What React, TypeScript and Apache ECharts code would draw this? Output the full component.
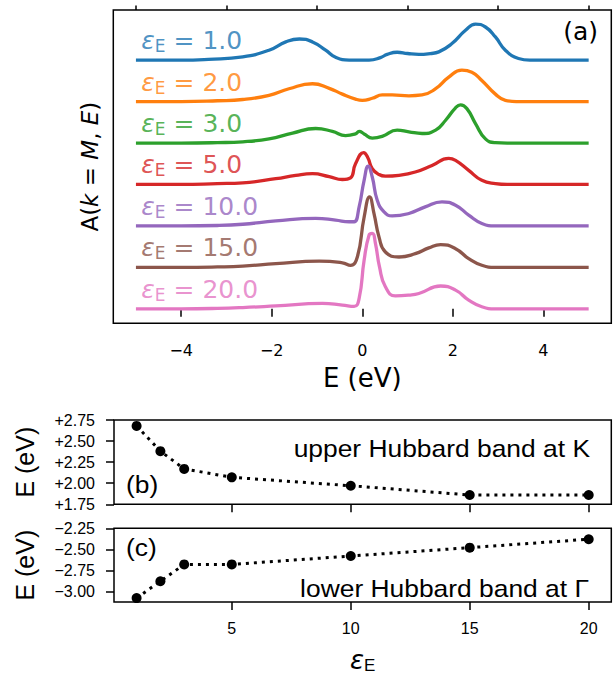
import React, { useEffect, useRef } from 'react';
import * as echarts from 'echarts';

// ---- panel (a): spectral functions A(k=M,E), pairs of [E (eV), A] ----
const epsLabels = ['1.0', '2.0', '3.0', '5.0', '10.0', '15.0', '20.0'];
const curveColors = ['#1f77b4', '#ff7f0e', '#2ca02c', '#d62728', '#9467bd', '#8c564b', '#e377c2'];
const curveOffsets = [6, 5, 4, 3, 2, 1, 0];

const curveEps1: number[][] = [
  [-5, 0], [-4, 0], [-3.4, 0.02], [-2.64, 0.08], [-2.06, 0.24], [-1.69, 0.44], [-1.39, 0.51],
  [-1.1, 0.44], [-0.81, 0.24], [-0.59, 0.07], [-0.29, 0.0], [0.15, 0.0], [0.4, 0.06], [0.55, 0.14],
  [0.77, 0.19], [1.0, 0.16], [1.25, 0.14], [1.5, 0.16], [1.69, 0.2], [1.98, 0.4], [2.28, 0.72],
  [2.5, 0.87], [2.72, 0.8], [2.94, 0.56], [3.16, 0.24], [3.45, 0.04], [3.7, 0], [5, 0],
];
const curveEps2: number[][] = [
  [-5, 0], [-4, 0], [-3.2, 0.02], [-2.64, 0.05], [-2.06, 0.15], [-1.62, 0.31], [-1.1, 0.43],
  [-0.73, 0.32], [-0.44, 0.18], [-0.15, 0.06], [0, 0.03], [0.22, 0.08], [0.44, 0.16], [0.66, 0.16],
  [1.03, 0.14], [1.32, 0.16], [1.62, 0.31], [1.91, 0.59], [2.2, 0.76], [2.42, 0.71], [2.64, 0.51],
  [2.94, 0.18], [3.16, 0.03], [3.4, 0], [5, 0],
];
const curveEps3: number[][] = [
  [-5, 0], [-4, 0], [-3.2, 0.01], [-2.64, 0.03], [-2.06, 0.1], [-1.54, 0.24], [-1.03, 0.35],
  [-0.66, 0.28], [-0.37, 0.18], [-0.15, 0.22], [-0.07, 0.28], [0.04, 0.22], [0.22, 0.12],
  [0.44, 0.16], [0.77, 0.31], [1.03, 0.27], [1.32, 0.23], [1.62, 0.31], [1.84, 0.55], [2.06, 0.85],
  [2.17, 0.92], [2.31, 0.83], [2.5, 0.47], [2.72, 0.1], [2.94, 0.01], [3.2, 0], [5, 0],
];
const curveEps5: number[][] = [
  [-5, 0], [-4, 0], [-3.2, 0.02], [-2.64, 0.04], [-1.91, 0.14], [-1.47, 0.22], [-1.1, 0.26],
  [-0.73, 0.19], [-0.44, 0.12], [-0.26, 0.16], [-0.15, 0.5], [0.03, 0.77], [0.12, 0.65],
  [0.22, 0.38], [0.37, 0.24], [0.51, 0.2], [0.81, 0.22], [1.17, 0.3], [1.54, 0.46], [1.91, 0.63],
  [2.06, 0.58], [2.35, 0.34], [2.64, 0.1], [2.94, 0.02], [3.2, 0], [5, 0],
];
const curveEps10: number[][] = [
  [-5, 0], [-4, 0], [-3.2, 0.01], [-2.64, 0.04], [-1.91, 0.12], [-1.03, 0.18], [-0.59, 0.14],
  [-0.29, 0.1], [-0.18, 0.1], [-0.07, 0.46], [0.04, 1.1], [0.13, 1.44], [0.22, 1.18], [0.33, 0.62],
  [0.48, 0.34], [0.66, 0.24], [1.03, 0.3], [1.39, 0.46], [1.76, 0.58], [2.06, 0.5], [2.35, 0.26],
  [2.64, 0.06], [2.94, 0], [5, 0],
];
const curveEps15: number[][] = [
  [-5, 0], [-4, 0], [-3.2, 0.01], [-2.64, 0.03], [-1.91, 0.09], [-0.95, 0.15], [-0.44, 0.11],
  [-0.26, 0.05], [-0.11, 0.25], [0.04, 1.21], [0.16, 1.7], [0.26, 1.29], [0.37, 0.73], [0.51, 0.37],
  [0.81, 0.25], [1.17, 0.33], [1.47, 0.47], [1.73, 0.55], [2.06, 0.45], [2.35, 0.21], [2.64, 0.05],
  [2.94, 0], [5, 0],
];
const curveEps20: number[][] = [
  [-5, 0], [-4, 0], [-3.2, 0.01], [-2.64, 0.03], [-1.91, 0.07], [-0.88, 0.13], [-0.44, 0.09],
  [-0.18, 0.06], [-0.07, 0.25], [0.04, 1.17], [0.15, 1.78], [0.22, 1.82], [0.29, 1.58], [0.38, 1.01],
  [0.51, 0.53], [0.73, 0.31], [1.03, 0.33], [1.25, 0.37], [1.73, 0.55], [2.06, 0.45], [2.35, 0.21],
  [2.64, 0.05], [2.94, 0], [5, 0],
];
const curves = [curveEps1, curveEps2, curveEps3, curveEps5, curveEps10, curveEps15, curveEps20];

const aMajorTicks = [-4, -2, 0, 2, 4];
const aMinorTicks = [-5, -3, -1, 1, 3, 5];

// ---- panels (b) and (c) ----
const epsE = [1, 2, 3, 5, 10, 15, 20];
const upperHubbardK = [2.68, 2.38, 2.17, 2.07, 1.97, 1.86, 1.86];
const lowerHubbardGamma = [-3.08, -2.88, -2.68, -2.68, -2.58, -2.48, -2.38];
const epsTicks = [5, 10, 15, 20];
const cTicks = [-3, -2.75, -2.5, -2.25];

const MINUS = '\u2212';
const DV = 'DejaVu Sans';
const LS = 'Liberation Sans, Arial, sans-serif';

export default function App() {
  const ref = useRef<HTMLDivElement>(null);
  useEffect(() => {
    document.body.style.margin = '0';
    const chart = echarts.init(ref.current!, undefined, { renderer: 'svg' });
    const tick = { show: true, inside: false, length: 8, lineStyle: { color: '#000', width: 1.5 } };
    const gridBase = { show: true, borderColor: '#000', borderWidth: 1.5, backgroundColor: 'transparent' };

    const curveSeries = curves.map((c, i) => ({
      type: 'line',
      xAxisIndex: 0,
      yAxisIndex: 0,
      data: c.map(([e, a]) => [e, a + curveOffsets[i]]),
      showSymbol: false,
      smooth: 0.5,
      lineStyle: { color: curveColors[i], width: 3.3 },
      itemStyle: { color: curveColors[i] },
      z: 3,
    }));

    const labelSeries = {
      type: 'scatter',
      xAxisIndex: 0,
      yAxisIndex: 0,
      symbolSize: 0,
      silent: true,
      z: 5,
      data: epsLabels.map((l, i) => ({
        value: [-4.88, curveOffsets[i] + 0.47],
        label: {
          show: true,
          position: 'right',
          distance: 0,
          formatter: `{e|ε}{s|E}{n| = ${l}}`,
          rich: {
            e: { fontFamily: DV, fontStyle: 'italic', fontSize: 25, lineHeight: 28, color: curveColors[i] },
            s: { fontFamily: DV, fontSize: 17, lineHeight: 15, verticalAlign: 'bottom', color: curveColors[i] },
            n: { fontFamily: DV, fontSize: 25, lineHeight: 28, color: curveColors[i] },
          },
        },
      })),
    };

    const dotted = { color: '#000', width: 3, type: [3, 5], cap: 'butt' };

    chart.setOption({
      animation: false,
      grid: [
        { ...gridBase, left: 113.3, top: 10, right: 1.7, height: 313.3 },
        { ...gridBase, left: 114, top: 420, right: 1.7, height: 84.3 },
        { ...gridBase, left: 114, top: 528.3, right: 1.7, height: 76 },
      ],
      xAxis: [
        {
          gridIndex: 0, type: 'value', min: -5.5, max: 5.5,
          axisLine: { show: false }, splitLine: { show: false },
          axisTick: { ...tick, customValues: aMajorTicks },
          axisLabel: {
            customValues: aMajorTicks, margin: 19, fontFamily: DV, fontSize: 16, color: '#000',
            formatter: (v: number) => (v < 0 ? MINUS + Math.abs(v) : String(v)),
          },
          name: 'E (eV)', nameLocation: 'middle', nameGap: 42,
          nameTextStyle: { fontFamily: DV, fontSize: 26, color: '#000' },
        },
        {
          gridIndex: 0, type: 'value', min: -5.5, max: 5.5,
          axisLine: { show: false }, splitLine: { show: false },
          axisTick: { ...tick, length: 4.5, customValues: aMinorTicks },
          axisLabel: { show: false },
        },
        {
          gridIndex: 1, type: 'value', min: 0.05, max: 20.95,
          axisLine: { show: false }, splitLine: { show: false },
          axisTick: { ...tick, customValues: epsTicks },
          axisLabel: { show: false },
        },
        {
          gridIndex: 2, type: 'value', min: 0.05, max: 20.95,
          axisLine: { show: false }, splitLine: { show: false },
          axisTick: { ...tick, customValues: epsTicks },
          axisLabel: { customValues: epsTicks, margin: 18, fontFamily: LS, fontSize: 16, color: '#000' },
          name: '{e|ε}{s|E}', nameLocation: 'middle', nameGap: 44,
          nameTextStyle: {
            rich: {
              e: { fontFamily: DV, fontStyle: 'italic', fontSize: 26, lineHeight: 28, color: '#000' },
              s: { fontFamily: LS, fontSize: 17, lineHeight: 15, verticalAlign: 'bottom', color: '#000' },
            },
          },
        },
      ],
      yAxis: [
        {
          gridIndex: 0, type: 'value', min: -0.35, max: 7.21,
          axisLine: { show: false }, splitLine: { show: false },
          axisTick: { show: false }, axisLabel: { show: false },
          name: '{r|A(}{i|k}{r| = }{i|M}{r|, }{i|E}{r|)}', nameLocation: 'middle', nameGap: 12,
          nameTextStyle: {
            rich: {
              r: { fontFamily: DV, fontSize: 23, color: '#000' },
              i: { fontFamily: DV, fontSize: 23, fontStyle: 'italic', color: '#000' },
            },
          },
        },
        {
          gridIndex: 1, type: 'value', min: 1.75, max: 2.75, interval: 0.25,
          axisLine: { show: false }, splitLine: { show: false },
          axisTick: tick,
          axisLabel: {
            margin: 19, fontFamily: LS, fontSize: 16, color: '#000',
            formatter: (v: number) => '+' + v.toFixed(2),
          },
          name: 'E (eV)', nameLocation: 'middle', nameGap: 77,
          nameTextStyle: { fontFamily: LS, fontSize: 25, color: '#000' },
        },
        {
          gridIndex: 2, type: 'value', min: -3.127, max: -2.25,
          axisLine: { show: false }, splitLine: { show: false },
          axisTick: { ...tick, customValues: cTicks },
          axisLabel: {
            customValues: cTicks, margin: 19, fontFamily: LS, fontSize: 16, color: '#000',
            formatter: (v: number) => (v < 0 ? MINUS : '+') + Math.abs(v).toFixed(2),
          },
          name: 'E (eV)', nameLocation: 'middle', nameGap: 77,
          nameTextStyle: { fontFamily: LS, fontSize: 25, color: '#000' },
        },
      ],
      series: [
        ...curveSeries,
        labelSeries,
        {
          type: 'line', xAxisIndex: 2, yAxisIndex: 1,
          data: epsE.map((e, i) => [e, upperHubbardK[i]]),
          symbol: 'circle', symbolSize: 10, showSymbol: true,
          itemStyle: { color: '#000' }, lineStyle: dotted, clip: false, z: 4,
        },
        {
          type: 'line', xAxisIndex: 3, yAxisIndex: 2,
          data: epsE.map((e, i) => [e, lowerHubbardGamma[i]]),
          symbol: 'circle', symbolSize: 10, showSymbol: true,
          itemStyle: { color: '#000' }, lineStyle: dotted, clip: false, z: 4,
        },
      ],
      graphic: [
        {
          type: 'text', x: 598, y: 31,
          style: { text: '(a)', x: 0, y: 0, align: 'right', verticalAlign: 'middle', fontFamily: DV, fontSize: 25, fill: '#000' },
        },
        {
          type: 'text', x: 590, y: 448, scaleX: 1.1,
          style: { text: 'upper Hubbard band at K', x: 0, y: 0, align: 'right', verticalAlign: 'middle', fontFamily: LS, fontSize: 24, fill: '#000' },
        },
        {
          type: 'text', x: 126, y: 484, scaleX: 1.1,
          style: { text: '(b)', x: 0, y: 0, align: 'left', verticalAlign: 'middle', fontFamily: LS, fontSize: 24, fill: '#000' },
        },
        {
          type: 'text', x: 126, y: 547, scaleX: 1.1,
          style: { text: '(c)', x: 0, y: 0, align: 'left', verticalAlign: 'middle', fontFamily: LS, fontSize: 24, fill: '#000' },
        },
        {
          type: 'text', x: 589, y: 588, scaleX: 1.1,
          style: { text: 'lower Hubbard band at Γ', x: 0, y: 0, align: 'right', verticalAlign: 'middle', fontFamily: LS, fontSize: 24, fill: '#000' },
        },
      ],
    });
    return () => chart.dispose();
  }, []);
  return <div ref={ref} style={{ width: 613, height: 675 }} />;
}
